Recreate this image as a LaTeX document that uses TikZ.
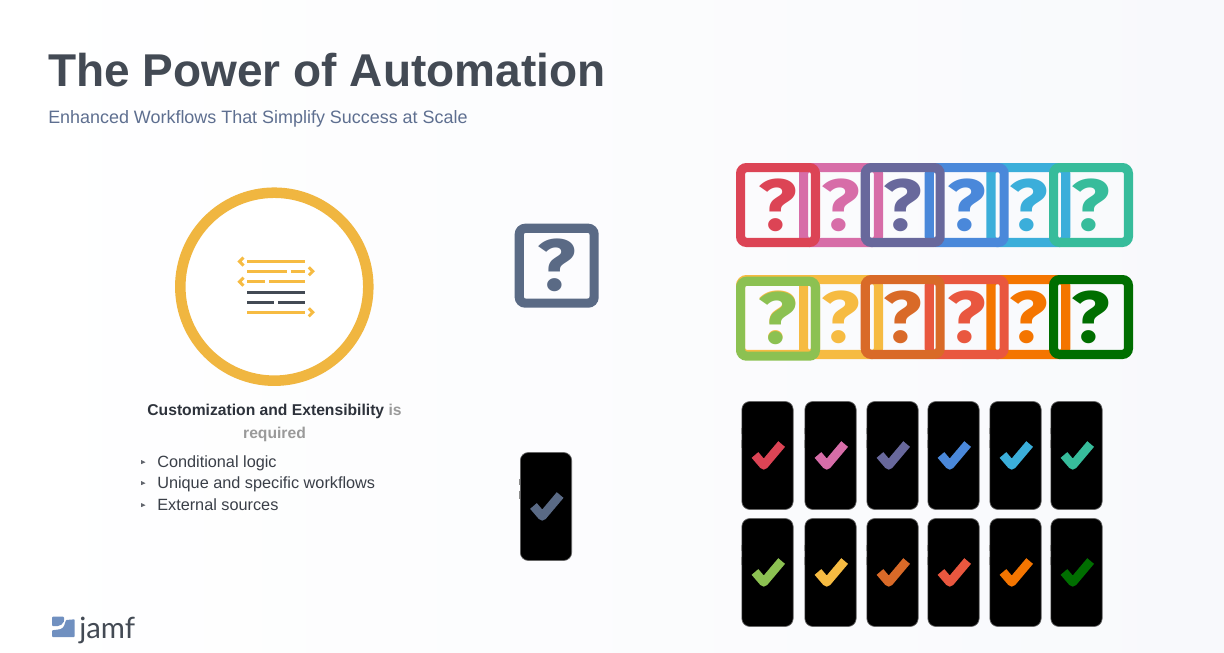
\documentclass[tikz,border=0pt]{standalone}
\usepackage{fontspec}
\setmainfont{Liberation Sans}
\newfontfamily\qfont[FakeStretch=1.1]{Fira Sans}
\newfontfamily\logofont{Lato}
\definecolor{cA}{HTML}{DC4455}\definecolor{cB}{HTML}{D76DA8}\definecolor{cC}{HTML}{68689C}
\definecolor{cD}{HTML}{4A88DA}\definecolor{cE}{HTML}{3BAEDA}\definecolor{cF}{HTML}{37BC9B}
\definecolor{cG}{HTML}{8CC152}\definecolor{cH}{HTML}{F6BB42}\definecolor{cI}{HTML}{D96A28}
\definecolor{cJ}{HTML}{E9573F}\definecolor{cK}{HTML}{F47500}\definecolor{cL}{HTML}{006E00}
\definecolor{slate}{HTML}{5A6A85}\definecolor{ringc}{HTML}{F0B640}\definecolor{codey}{HTML}{F6BB42}
\definecolor{coded}{HTML}{434A54}\definecolor{titlec}{HTML}{434A54}\definecolor{subc}{HTML}{5E6F90}
\definecolor{bodyc}{HTML}{3A3F48}\definecolor{boldc}{HTML}{2D323B}\definecolor{greyc}{HTML}{9A9A9A}
\definecolor{logoc}{HTML}{7090C0}\definecolor{bgend}{HTML}{F8F9FC}
\tikzset{
  qbox/.style={draw=#1,text=#1,line width=6.9pt,rounded corners=4.5pt,minimum size=56.1pt,inner sep=0pt,font=\qfont\bfseries\fontsize{54.5}{54}\selectfont},
  phone/.style={draw=black!60,fill=black,line width=0.5pt,rounded corners=6pt,minimum width=38.5pt,minimum height=81pt,inner sep=0pt},
  tick/.style={draw=#1,line width=6.6pt,line join=round},
  codeline/.style={line width=1.9pt,draw=codey},
  codedark/.style={line width=1.9pt,draw=coded},
  chev/.style={line width=2.2pt,draw=codey},
  txt/.style={inner sep=0pt,anchor=base west},
  bullet/.style={fill=bodyc!80}
}
\newcommand{\qm}{?}
\newcommand{\phoneat}[4]{%
  \node[phone] (#1) at (#2,#3) {};
  \draw[line width=0.4pt,draw=black!45] ([xshift=-0.2pt,yshift=20.5pt]#1.west) -- ++(0,-4.5pt) ([xshift=-0.2pt,yshift=12pt]#1.west) -- ++(0,-6.5pt);
  \draw[tick=#4] ([shift={(-9.4pt,0.4pt)}]#1.center) -- ([shift={(-2.8pt,-7.3pt)}]#1.center) -- ([shift={(10.6pt,8.6pt)}]#1.center);
}
\begin{document}
\begin{tikzpicture}[x=0.75pt,y=-0.75pt]
\useasboundingbox (0,0) rectangle (1224,653);
\shade[shading angle=135,left color=white,right color=bgend] (0,0) rectangle (1224,653);
% titles
\node[txt,text=titlec,font=\bfseries\fontsize{34.5}{35}\selectfont] (title) at (48,86) {The Power of Automation};
\node[txt,text=subc,font=\fontsize{13.45}{14}\selectfont] (subtitle) at (48,123.5) {Enhanced Workflows That Simplify Success at Scale};
% ring
\node[circle,draw=ringc,fill=white,line width=7.9pt,minimum size=141pt,inner sep=0pt] (ring) at (274.3,286.7) {};
\draw[codeline] (247.3,261.5) -- (304.7,261.5);
\draw[codeline] (247.3,271.3) -- (286.7,271.3) (290.7,271.3) -- (304.7,271.3);
\draw[codeline] (247.3,281.7) -- (265,281.7) (269.3,281.7) -- (304.7,281.7);
\draw[codedark] (247.3,292.5) -- (304.7,292.5);
\draw[codedark] (247.3,302.5) -- (274,302.5) (278.3,302.5) -- (304.7,302.5);
\draw[codeline] (247.3,312.3) -- (304.7,312.3);
\draw[chev] (243.5,257.5) -- (239.5,261.5) -- (243.5,265.5);
\draw[chev] (243.5,277.7) -- (239.5,281.7) -- (243.5,285.7);
\draw[chev] (308.8,267.3) -- (312.8,271.3) -- (308.8,275.3);
\draw[chev] (308.8,308.3) -- (312.8,312.3) -- (308.8,316.3);
% caption
\node[inner sep=0pt,anchor=base,font=\bfseries\fontsize{11.75}{12}\selectfont,text=boldc] (cap1) at (274.5,415) {Customization and Extensibility \textcolor{greyc}{is}};
\node[inner sep=0pt,anchor=base,font=\bfseries\fontsize{11.75}{12}\selectfont,text=greyc] (cap2) at (274.5,438) {required};
\foreach \yy/\tt/\nn in {467/Conditional logic/b1,488/Unique and specific workflows/b2,510/External sources/b3}{
  \node[txt,text=bodyc,font=\fontsize{12.2}{13}\selectfont] (\nn) at (157,\yy) {\tt};
  \fill[bullet] (141,\yy-7) -- (145.5,\yy-4.8) -- (141,\yy-2.8) -- cycle;
}
% centre pieces
\node[qbox=slate] (bigq) at (556.7,265.7) {\qm};
\phoneat{bigphone}{546}{506.5}{slate}
% question row 1
\node[qbox=cE] (q15) at (1028.3,205) {\qm};
\node[qbox=cD] (q14) at (966.7,205) {\qm};
\node[qbox=cB] (q12) at (841,205) {\qm};
\node[qbox=cA] (q11) at (778,205) {\qm};
\node[qbox=cC] (q13) at (902.7,205) {\qm};
\node[qbox=cF] (q16) at (1091,205) {\qm};
% question row 2
\node[qbox=cK] (q25) at (1028.3,317) {\qm};
\node[qbox=cJ] (q24) at (966.7,317) {\qm};
\node[qbox=cH] (q22) at (841,317) {\qm};
\node[qbox=cH] (q21b) at (778,317) {\qm};
\node[qbox=cG] (q21) at (778,318.7) {\qm};
\node[qbox=cI] (q23) at (902.7,317) {\qm};
\node[qbox=cL] (q26) at (1091,317) {\qm};
% phones
\phoneat{p11}{767.5}{455.5}{cA}
\phoneat{p12}{830.5}{455.5}{cB}
\phoneat{p13}{892.5}{455.5}{cC}
\phoneat{p14}{953.5}{455.5}{cD}
\phoneat{p15}{1015.5}{455.5}{cE}
\phoneat{p16}{1076.5}{455.5}{cF}
\phoneat{p21}{767.5}{572.5}{cG}
\phoneat{p22}{830.5}{572.5}{cH}
\phoneat{p23}{892.5}{572.5}{cI}
\phoneat{p24}{953.5}{572.5}{cJ}
\phoneat{p25}{1015.5}{572.5}{cK}
\phoneat{p26}{1076.5}{572.5}{cL}
% logo
\fill[logoc,rounded corners=0.6pt] (52,616.7) -- (64,616.7) -- (64,621) .. controls (63,624) and (60,626) .. (57,626) -- (52,626) -- cycle;
\fill[logoc,rounded corners=0.6pt] (74.7,619.3) -- (74.7,637) -- (52,637) -- (52,630.3) -- (59.7,629.3) .. controls (64,628) and (65,624) .. (66,620) -- cycle;
\node[txt,text=titlec,font=\logofont\fontsize{22}{22}\selectfont] (logo) at (79,638) {jamf};
\end{tikzpicture}
\end{document}
